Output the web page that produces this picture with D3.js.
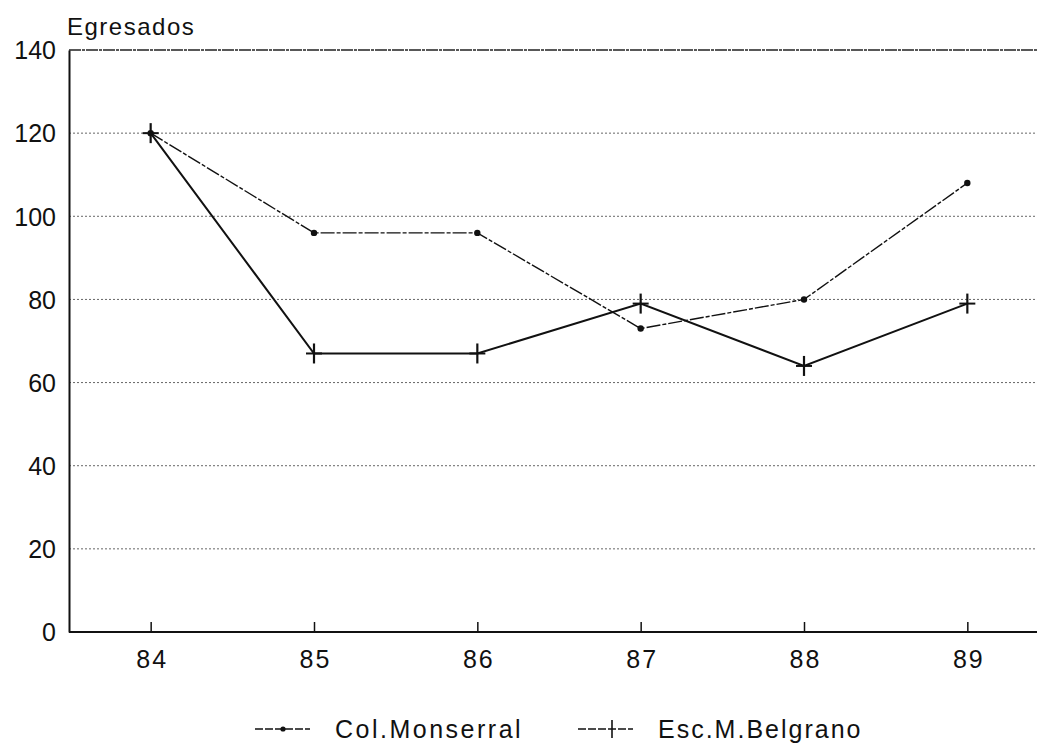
<!DOCTYPE html>
<html><head><meta charset="utf-8">
<script src="https://cdn.jsdelivr.net/npm/d3@7"></script>
<style>body{margin:0;background:#fff}svg{display:block}text{font-family:"Liberation Sans",Arial,sans-serif;fill:#111}</style>
</head><body>
<svg id="c" width="1037" height="744"></svg>
<script>
const categories = ["84","85","86","87","88","89"];
const monserral = [120, 96, 96, 73, 80, 108];
const belgrano = [120, 67, 67, 79, 64, 79];
const yTicks = [0,20,40,60,80,100,120,140];
const seriesNames = ["Col.Monserral","Esc.M.Belgrano"];

const svg = d3.select("#c");
const L = 69, R = 1049, T = 50, B = 632;
const x = d3.scalePoint().domain(categories).range([L, R]).padding(0.5);
const y = d3.scaleLinear().domain([0,140]).range([B, T]);

// gridlines
svg.append("g").selectAll("line").data(yTicks.filter(v=>v>0&&v<140)).join("line")
  .attr("x1", L).attr("x2", 1037).attr("y1", d=>y(d)).attr("y2", d=>y(d))
  .attr("stroke","#666").attr("stroke-width",1).attr("stroke-dasharray","2,2");
// top frame
svg.append("line").attr("x1",L).attr("x2",1037).attr("y1",y(140)).attr("y2",y(140))
  .attr("stroke","#222").attr("stroke-width",1.3).attr("stroke-dasharray","12,1,3,1");

// y axis
const ya = svg.append("g").attr("transform",`translate(${L},0)`)
  .call(d3.axisLeft(y).tickValues(yTicks).tickSize(0).tickPadding(13));
ya.select(".domain").attr("stroke","#111").attr("stroke-width",2);
ya.selectAll("text").attr("font-size",25).attr("fill","#111").attr("dy","0.35em");

// x axis
const xa = svg.append("g").attr("transform",`translate(0,${B})`)
  .call(d3.axisBottom(x).tickSize(-10).tickPadding(18));
xa.select(".domain").attr("d",`M${L},0H1037`).attr("stroke","#111").attr("stroke-width",1.8);
xa.selectAll(".tick line").attr("stroke","#111").attr("stroke-width",1.5);
xa.selectAll("text").attr("font-size",25).attr("fill","#111").attr("dy","0.71em")
  .attr("letter-spacing",2).attr("dx",1);

svg.append("text").attr("x",67).attr("y",35).attr("font-size",24).attr("letter-spacing",1.5).text("Egresados");

const line = d3.line().x((d,i)=>x(categories[i])).y(d=>y(d));
svg.append("path").datum(monserral).attr("d",line).attr("fill","none")
  .attr("stroke","#111").attr("stroke-width",1.4).attr("stroke-dasharray","14,2,4,2");
svg.append("path").datum(belgrano).attr("d",line).attr("fill","none")
  .attr("stroke","#111").attr("stroke-width",2);

svg.append("g").selectAll("circle").data(monserral).join("circle")
  .attr("cx",(d,i)=>x(categories[i])).attr("cy",d=>y(d)).attr("r",3.2).attr("fill","#111");
const cross = svg.append("g").selectAll("g").data(belgrano).join("g")
  .attr("transform",(d,i)=>`translate(${x(categories[i])},${y(d)})`);
cross.append("line").attr("x1",0).attr("x2",0).attr("y1",-10).attr("y2",10).attr("stroke","#111").attr("stroke-width",2.2);
cross.append("line").attr("x1",-8).attr("x2",8).attr("y1",0).attr("y2",0).attr("stroke","#111").attr("stroke-width",2);

// legend
const lg = svg.append("g").attr("transform","translate(0,729)");
lg.append("line").attr("x1",255).attr("x2",310).attr("y1",0).attr("y2",0).attr("stroke","#111").attr("stroke-width",1.3).attr("stroke-dasharray","8,2");
lg.append("circle").attr("cx",283).attr("cy",0).attr("r",2.6).attr("fill","#111");
lg.append("text").attr("x",335).attr("y",9).attr("font-size",25).attr("letter-spacing",2.5).text(seriesNames[0]);
lg.append("line").attr("x1",578).attr("x2",633).attr("y1",0).attr("y2",0).attr("stroke","#111").attr("stroke-width",1.3).attr("stroke-dasharray","8,2");
lg.append("line").attr("x1",612).attr("x2",612).attr("y1",-9).attr("y2",9).attr("stroke","#111").attr("stroke-width",1.6);
lg.append("text").attr("x",658).attr("y",9).attr("font-size",25).attr("letter-spacing",2).text(seriesNames[1]);
</script>
</body></html>
